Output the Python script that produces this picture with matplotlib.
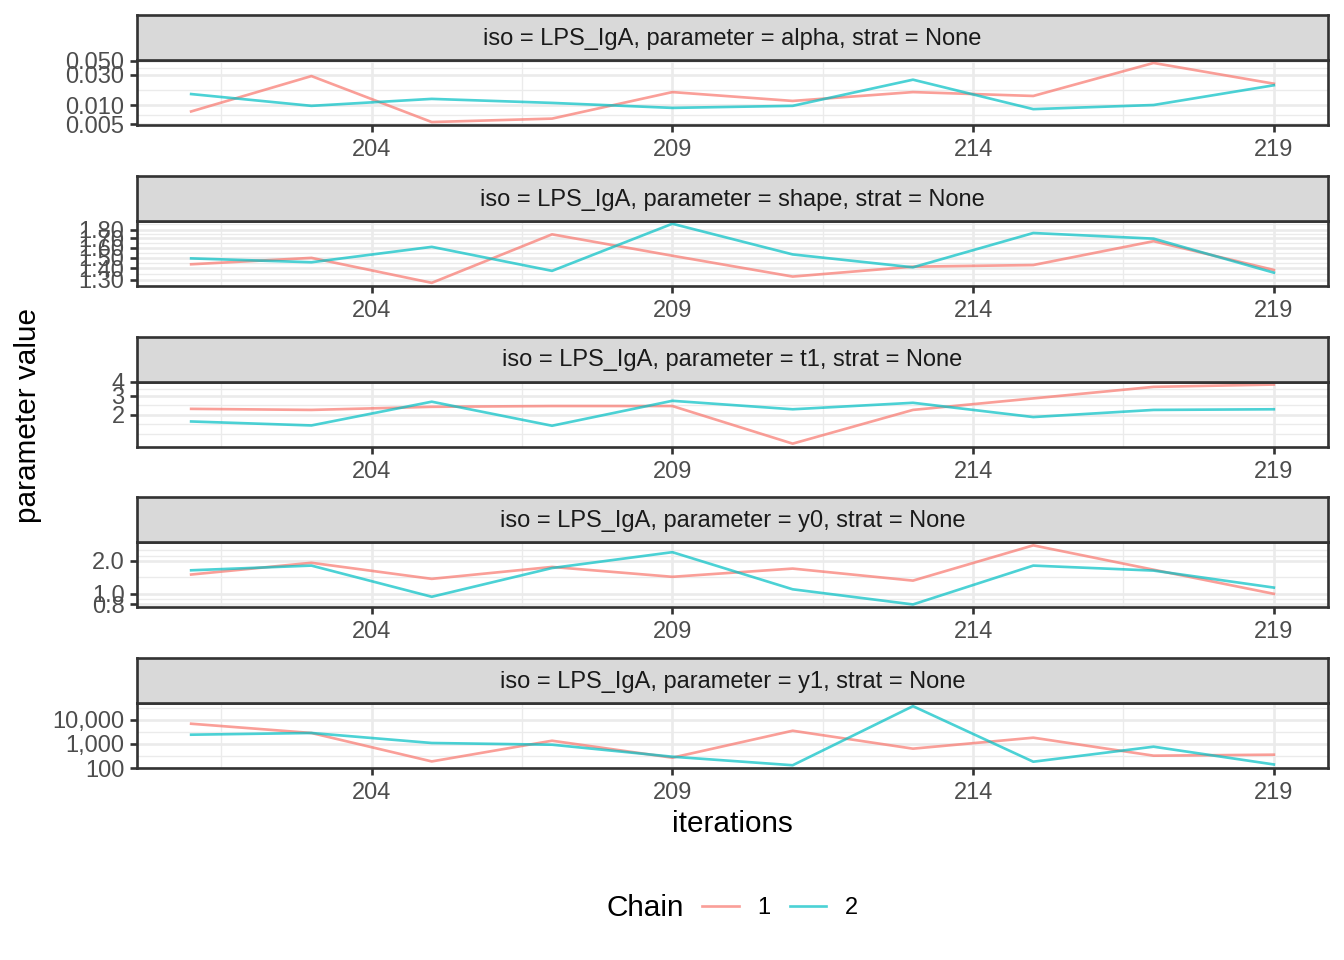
import matplotlib.pyplot as plt
import numpy as np
from matplotlib.ticker import NullFormatter

plt.rcParams['font.family'] = ['Liberation Sans', 'DejaVu Sans']

# iterations shown on the x axis
iterations = [201, 203, 205, 207, 209, 211, 213, 215, 217, 219]

alpha_chain1 = [0.0080, 0.0287, 0.00546, 0.00618, 0.0161, 0.0117, 0.0161, 0.0140, 0.0461, 0.0218]
alpha_chain2 = [0.0150, 0.0098, 0.0126, 0.0109, 0.0091, 0.0098, 0.0252, 0.0087, 0.0101, 0.0206]

shape_chain1 = [1.438, 1.499, 1.275, 1.746, 1.52, 1.328, 1.416, 1.431, 1.67, 1.386]
shape_chain2 = [1.494, 1.457, 1.61, 1.378, 1.87, 1.533, 1.41, 1.761, 1.698, 1.362]

t1_chain1 = [2.27, 2.22, 2.37, 2.41, 2.41, 1.09, 2.22, 2.83, 3.61, 3.79]
t1_chain2 = [1.74, 1.60, 2.64, 1.59, 2.69, 2.25, 2.58, 1.91, 2.22, 2.25]

y0_chain1 = [1.50, 1.92, 1.37, 1.76, 1.43, 1.70, 1.32, 2.77, 1.66, 1.00]
y0_chain2 = [1.64, 1.81, 0.94, 1.72, 2.40, 1.10, 0.80, 1.81, 1.63, 1.14]

y1_chain1 = [6760, 2800, 187, 1340, 267, 3470, 630, 1790, 323, 355]
y1_chain2 = [2380, 2800, 1080, 918, 293, 130, 36000, 182, 760, 140]

params = ['alpha', 'shape', 't1', 'y0', 'y1']
chain1 = [alpha_chain1, shape_chain1, t1_chain1, y0_chain1, y1_chain1]
chain2 = [alpha_chain2, shape_chain2, t1_chain2, y0_chain2, y1_chain2]
y_breaks = [
    [0.005, 0.010, 0.030, 0.050],
    [1.3, 1.4, 1.5, 1.6, 1.7, 1.8],
    [2, 3, 4],
    [0.8, 1.0, 2.0],
    [100, 1000, 10000],
]
y_labels = [
    ['0.005', '0.010', '0.030', '0.050'],
    ['1.30', '1.40', '1.50', '1.60', '1.70', '1.80'],
    ['2', '3', '4'],
    ['0.8', '1.0', '2.0'],
    ['100', '1,000', '10,000'],
]
x_breaks = [204, 209, 214, 219]

col1 = '#F8766D'
col2 = '#00BFC4'
grid_col = '#EBEBEB'
dark = '#333333'
W, H = 1344, 960
small = 17
big = 21.4
lw = 1.92


def minor_breaks(majors, lo, hi):
    # ggplot-like regular minor breaks (midpoints between majors)
    b = list(majors)
    bd = b[1] - b[0]
    if lo < b[0]:
        b = [b[0] - bd] + b
    if hi > b[-1]:
        b = b + [b[-1] + bd]
    out = []
    for i in range(len(b) - 1):
        out += [b[i], (b[i] + b[i + 1]) / 2, b[i + 1]]
    return sorted(set(v for v in out if lo <= v <= hi))


def expand(lo, hi, mult=0.05):
    r = hi - lo
    return lo - r * mult, hi + r * mult


fig = plt.figure(figsize=(W / 100, H / 100), dpi=100)
left = 137 / W
width = (1328 - 137) / W
step = 160.8

xlo, xhi = expand(min(iterations), max(iterations))

for i, p in enumerate(params):
    strip_top = 15 + step * i
    panel_top = strip_top + 45
    panel_bot = panel_top + 65

    ax = fig.add_axes([left, 1 - panel_bot / H, width, 65 / H])
    ax.plot(iterations, chain1[i], color=col1, alpha=0.7, lw=lw)
    ax.plot(iterations, chain2[i], color=col2, alpha=0.7, lw=lw)

    ax.set_yscale('log')
    allv = np.log10(chain1[i] + chain2[i])
    ylo, yhi = expand(allv.min(), allv.max())
    ax.set_ylim(10 ** ylo, 10 ** yhi)
    ax.set_yticks(y_breaks[i], y_labels[i])
    ymin = minor_breaks(np.log10(y_breaks[i]), ylo, yhi)
    ax.set_yticks([10 ** v for v in ymin], minor=True)
    ax.yaxis.set_minor_formatter(NullFormatter())

    ax.set_xlim(xlo, xhi)
    ax.set_xticks(x_breaks)
    ax.set_xticks(minor_breaks(x_breaks, xlo, xhi), minor=True)

    ax.set_axisbelow(True)
    ax.grid(which='major', color=grid_col, lw=lw)
    ax.grid(which='minor', color=grid_col, lw=lw / 2)
    ax.tick_params(which='major', length=4.95, width=lw, color=dark,
                   labelsize=small, labelcolor='#4D4D4D', pad=4)
    ax.tick_params(axis='x', which='major', pad=5.2)
    ax.tick_params(which='minor', length=0)
    for s in ax.spines.values():
        s.set_color(dark)
        s.set_linewidth(lw)

    sax = fig.add_axes([left, 1 - panel_top / H, width, 45 / H])
    sax.set_facecolor('#D9D9D9')
    sax.set_xticks([])
    sax.set_yticks([])
    for s in sax.spines.values():
        s.set_color(dark)
        s.set_linewidth(lw)
    sax.text(0.5, 0.47, 'iso = LPS_IgA, parameter = %s, strat = None' % p,
             ha='center', va='center', fontsize=small, color='#1A1A1A',
             transform=sax.transAxes)

    if i == 0:
        handles = ax.get_lines()

fig.text(28 / W, 1 - 415 / H, 'parameter value', rotation=90,
         ha='center', va='center', fontsize=big)
fig.text(732 / W, 1 - 824 / H, 'iterations', ha='center', va='center', fontsize=big)

fig.text(607 / W, 1 - 908 / H, 'Chain', ha='left', va='center', fontsize=big)
fig.legend(handles, ['1', '2'], loc='center left', bbox_to_anchor=(702 / W, 1 - 908 / H),
           ncol=2, frameon=False, fontsize=small, handlelength=1.55,
           handletextpad=0.8, columnspacing=0.8, borderpad=0, borderaxespad=0)

fig.savefig('out.png', dpi=100)
